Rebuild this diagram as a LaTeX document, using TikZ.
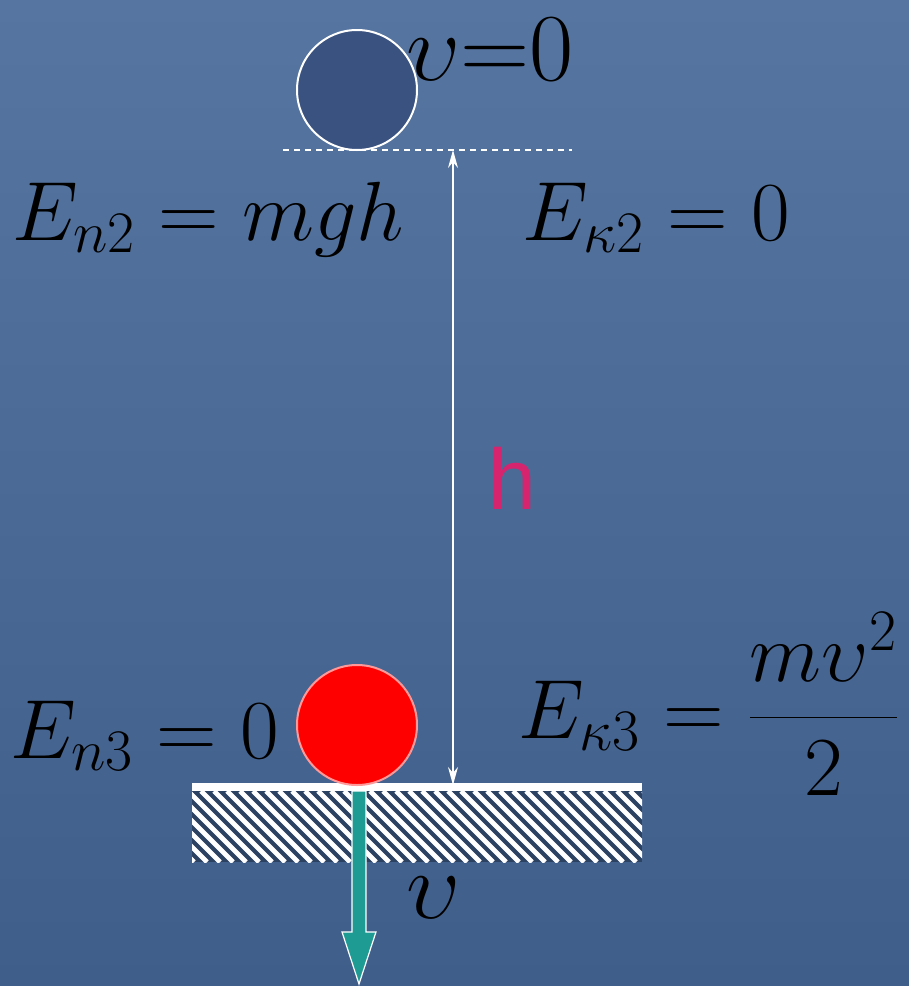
\RequirePackage{fix-cm}
\documentclass[tikz,border=0pt]{standalone}
\usepackage{fontspec}
\usetikzlibrary{arrows.meta}
\newfontfamily\hfont{Liberation Sans}
\definecolor{bgtop}{RGB}{86,117,160}
\definecolor{bgbot}{RGB}{64,94,138}
\definecolor{ballblue}{RGB}{58,82,128}
\definecolor{ground}{RGB}{44,66,98}
\definecolor{arrteal}{RGB}{30,156,148}
\definecolor{hmag}{RGB}{214,36,110}
\begin{document}
\begin{tikzpicture}[x=0.5pt,y=-0.5pt,
  big/.style={anchor=base west,inner sep=0pt,font=\fontsize{42}{50}\selectfont},
  huge/.style={anchor=base west,inner sep=0pt,font=\fontsize{48}{56}\selectfont},
  ball/.style={circle,draw=white,line width=1pt,minimum size=60pt,inner sep=0pt}]
\useasboundingbox (0,0) rectangle (909,986);
\shade[top color=bgtop,bottom color=bgbot] (0,0) rectangle (909,986);

% upper position
\node[ball,fill=ballblue] (topball) at (357,90) {};
\node[huge] (vzero) at (406,80) {$\upsilon{=}0$};
\draw[white,line width=0.8pt,dash pattern=on 3pt off 2.5pt] (283,150) -- (572,150);
\node[big] (epot2) at (12,240) {$E_{n2}=mgh$};
\node[big] (ekin2) at (522,240) {$E_{\kappa2}=0$};

% height
\coordinate (htop) at (453,150);
\coordinate (hbot) at (453,785);
\draw[white,line width=0.6pt,{Stealth[length=9pt,width=5pt]}-{Stealth[length=9pt,width=5pt]}] (htop) -- (hbot);
\node[text=hmag,font=\hfont\fontsize{43}{50}\selectfont] (hlab) at (512,478) {h};

% ground
\fill[ground] (192,791) rectangle (642,862);
\begin{scope}
\clip (192,791) rectangle (642,862);
\foreach \i in {110,123,...,650}
  \draw[white,line width=2.4pt] (\i,791) -- ++(71,71);
\end{scope}
\draw[white,line width=4pt] (192,787) -- (642,787);

% lower position
\node[ball,fill=red,draw=red!40!white] (lowball) at (357,725) {};
\node[big] (epot3) at (10,758) {$E_{n3}=0$};
\node[big] (ekin3) at (518,738) {$E_{\kappa3}=\displaystyle\frac{m\upsilon^2}{2}$};

% velocity
\filldraw[fill=arrteal,draw=white,line width=0.6pt]
  (352,791) -- (366,791) -- (366,932) -- (376,932) -- (359,984)
  -- (342,932) -- (352,932) -- cycle;
\node[huge] (vlab) at (406,918) {$\upsilon$};
\end{tikzpicture}
\end{document}
